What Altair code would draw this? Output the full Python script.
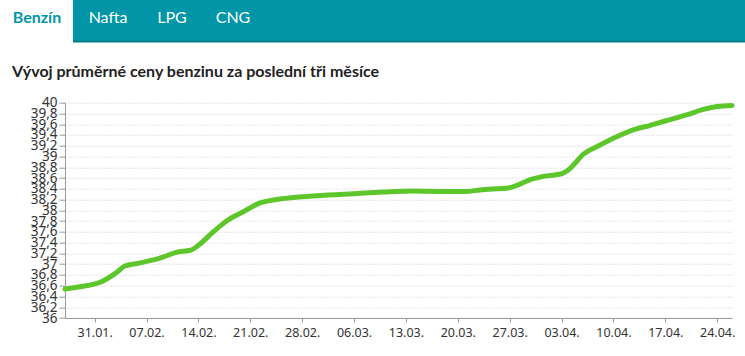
import altair as alt
import pandas as pd

# ---- data ----
dates = ["2024-01-27", "2024-01-29", "2024-02-01", "2024-02-03", "2024-02-04",
         "2024-02-06", "2024-02-09", "2024-02-11", "2024-02-13", "2024-02-14",
         "2024-02-16", "2024-02-18", "2024-02-20", "2024-02-22", "2024-02-25",
         "2024-03-01", "2024-03-06", "2024-03-10", "2024-03-14", "2024-03-18",
         "2024-03-21", "2024-03-23", "2024-03-27", "2024-03-30", "2024-04-01",
         "2024-04-03", "2024-04-04", "2024-04-06", "2024-04-08", "2024-04-10",
         "2024-04-13", "2024-04-15", "2024-04-17", "2024-04-20", "2024-04-22",
         "2024-04-24", "2024-04-26"]
prices = [36.54, 36.58, 36.68, 36.85, 36.96,
          37.02, 37.12, 37.22, 37.26, 37.35,
          37.60, 37.82, 37.97, 38.12, 38.21,
          38.27, 38.31, 38.34, 38.36, 38.35,
          38.35, 38.38, 38.42, 38.58, 38.64,
          38.68, 38.76, 39.05, 39.20, 39.34,
          39.51, 39.58, 39.66, 39.78, 39.87,
          39.93, 39.95]
y_ticks = [36, 36.2, 36.4, 36.6, 36.8, 37, 37.2, 37.4, 37.6, 37.8, 38,
           38.2, 38.4, 38.6, 38.8, 39, 39.2, 39.4, 39.6, 39.8, 40]
x_tick_dates = [(1, 31), (2, 7), (2, 14), (2, 21), (2, 28), (3, 6), (3, 13),
                (3, 20), (3, 27), (4, 3), (4, 10), (4, 17), (4, 24)]
tabs = ["Benzín", "Nafta", "LPG", "CNG"]
title_text = "Vývoj průměrné ceny benzinu za poslední tři měsíce"

# ---- layout constants (pixels) ----
PAD_L, PAD_T, PAD_R, PAD_B = 65, 102.7, 13, 38
W, H = 745 - PAD_L - PAD_R, 356 - PAD_T - PAD_B
tab_centers = [37, 108, 172, 233]
TEAL = "#0096a7"

df = pd.DataFrame({"date": dates, "price": prices})
one = pd.DataFrame({"k": [0]})

x_enc = alt.X(
    "date:T",
    scale=alt.Scale(type="utc",
                    domain=[alt.DateTime(year=2024, month=1, date=27, utc=True),
                            alt.DateTime(year=2024, month=4, date=26, utc=True)]),
    axis=alt.Axis(values=[alt.DateTime(year=2024, month=m, date=d, utc=True)
                          for m, d in x_tick_dates],
                  format="%d.%m.", title=None, grid=False,
                  tickSize=4, labelPadding=4, domainColor="#999", tickColor="#999",
                  labelColor="#333", labelFont="Noto Sans", labelFontSize=12.5),
)
y_enc = alt.Y(
    "price:Q",
    scale=alt.Scale(domain=[36, 40], nice=False, zero=False),
    axis=alt.Axis(values=y_ticks, title=None, grid=True, gridColor="#c8c8c8",
                  gridDash=[1, 2], gridWidth=1,
                  labelExpr="replace(format(datum.value, '.1~f'), '.', ',')",
                  tickSize=6, labelPadding=2, domainColor="#999", tickColor="#999",
                  labelColor="#333", labelFont="Noto Sans", labelFontSize=13.5,
                  labelOverlap=False),
)

line = alt.Chart(df).mark_line(
    color="#5cc62a", strokeWidth=5, strokeCap="round", strokeJoin="round",
    interpolate="monotone"
).encode(x=x_enc, y=y_enc)

bar = alt.Chart(one).mark_rect(color=TEAL).encode(
    x=alt.value(-PAD_L), x2=alt.value(W + PAD_R),
    y=alt.value(-PAD_T), y2=alt.value(-PAD_T + 42))
bar_border = alt.Chart(one).mark_rect(color="#007c88").encode(
    x=alt.value(-PAD_L + 73), x2=alt.value(W + PAD_R),
    y=alt.value(-PAD_T + 40.5), y2=alt.value(-PAD_T + 42.5))
active_tab = alt.Chart(one).mark_rect(color="white").encode(
    x=alt.value(-PAD_L), x2=alt.value(-PAD_L + 73),
    y=alt.value(-PAD_T), y2=alt.value(-PAD_T + 43))

tab_layers = []
for i, (name, cx) in enumerate(zip(tabs, tab_centers)):
    tab_layers.append(
        alt.Chart(one).mark_text(
            text=name, font="Lato", fontSize=16,
            fontWeight="bold" if i == 0 else "normal",
            color=TEAL if i == 0 else "white",
            align="center", baseline="alphabetic"
        ).encode(x=alt.value(cx - PAD_L), y=alt.value(23 - PAD_T))
    )

title = alt.Chart(one).mark_text(
    text=title_text, font="Lato", fontSize=16, fontWeight="bold",
    color="#222", align="left", baseline="alphabetic"
).encode(x=alt.value(12 - PAD_L), y=alt.value(77 - PAD_T))

chart = alt.layer(bar, bar_border, active_tab, *tab_layers, title, line).properties(
    width=W, height=H,
    padding={"left": PAD_L, "top": PAD_T, "right": PAD_R, "bottom": PAD_B},
    autosize=alt.AutoSizeParams(type="none"),
    background="white",
).configure_view(strokeWidth=0)

chart.save("out.html", embed_options={"renderer": "svg", "actions": False})
